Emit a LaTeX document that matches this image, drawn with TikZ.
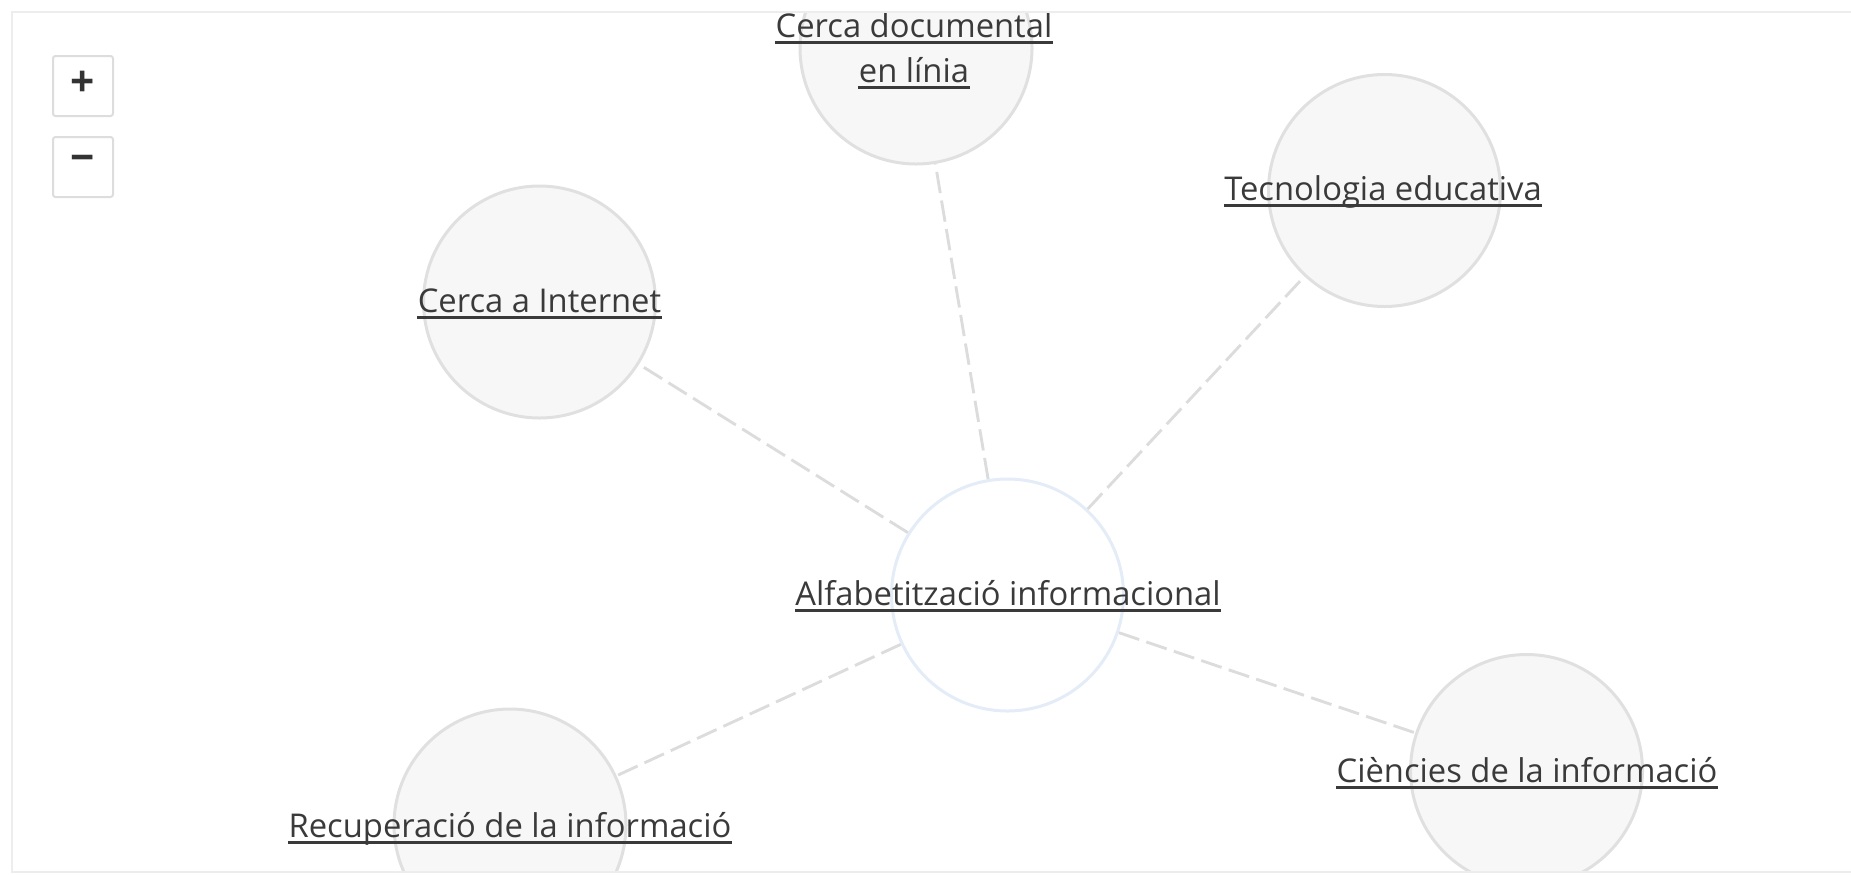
\documentclass[tikz,border=0pt]{standalone}
\usepackage{fontspec}
\setmainfont{Open Sans}
\usetikzlibrary{backgrounds}
\definecolor{txt}{HTML}{3A3A3A}
\definecolor{cfill}{HTML}{F7F7F7}
\definecolor{cdraw}{HTML}{E0E0E0}
\definecolor{cblue}{HTML}{E3ECF7}
\definecolor{edgec}{HTML}{DCDCDC}
\definecolor{framec}{HTML}{EDEDED}
\definecolor{btnc}{HTML}{DDDDDD}
\definecolor{btntxt}{HTML}{333333}
\begin{document}
\begin{tikzpicture}[x=0.4pt,y=-0.4pt,
  topic/.style={circle,fill=cfill,draw=cdraw,line width=1.2pt,minimum size=92.8pt,inner sep=0pt},
  hub/.style={circle,fill=white,draw=cblue,line width=1.2pt,minimum size=92.8pt,inner sep=0pt},
  lbl/.style={font=\fontsize{13.1pt}{15pt}\selectfont,text=txt,inner sep=0pt,anchor=base},
  uline/.style={draw=txt,line width=1.15pt},
  link/.style={draw=edgec,line width=1.15pt,dash pattern=on 8.6pt off 3pt},
  btnbox/.style={draw=btnc,line width=0.8pt,rounded corners=1pt,minimum size=24pt,inner sep=0pt,fill=white},
  btnsym/.style={font=\fontsize{17pt}{17pt}\selectfont\bfseries,text=btntxt,inner sep=0pt}]
\useasboundingbox (0,0) rectangle (1851,874);
\begin{scope}
\clip (12,12) rectangle (1851,872);
% circles
\node[hub]   (c0) at (1007.5,595) {};
\node[topic] (c1) at (916,48) {};
\node[topic] (c2) at (1384.5,190.5) {};
\node[topic] (c3) at (539.5,302) {};
\node[topic] (c4) at (510,825) {};
\node[topic] (c5) at (1526.5,770.5) {};
% connectors
\begin{scope}[on background layer]
\draw[link] (c0) -- (c1);
\draw[link] (c0) -- (c2);
\draw[link] (c0) -- (c3);
\draw[link] (c0) -- (c4);
\draw[link] (c0) -- (c5);
\end{scope}
% labels
\node[lbl] (l0)  at (1008,605) {Alfabetització informacional};
\node[lbl] (l1a) at (914,37) {Cerca documental};
\node[lbl] (l1b) at (914,82) {en línia};
\node[lbl] (l2)  at (1383,200) {Tecnologia educativa};
\node[lbl] (l3)  at (539.5,312) {Cerca a Internet};
\node[lbl] (l4)  at (510,837) {Recuperació de la informació};
\node[lbl] (l5)  at (1527,782) {Ciències de la informació};
\foreach \n in {l0,l1a,l1b,l2,l3,l4,l5}
  \draw[uline] ([yshift=-2.3pt]\n.base west) -- ([yshift=-2.3pt]\n.base east);
\end{scope}
% frame
\draw[framec,line width=0.8pt] (1860,12) -- (12,12) -- (12,872) -- (1860,872);
% zoom buttons
\node[btnbox] (bplus) at (83,86) {};
\node[btnsym] (splus) at (83,84) {+};
\node[btnbox] (bminus) at (83,167) {};
\node[btnsym] (sminus) at (83,164) {−};
\end{tikzpicture}
\end{document}
